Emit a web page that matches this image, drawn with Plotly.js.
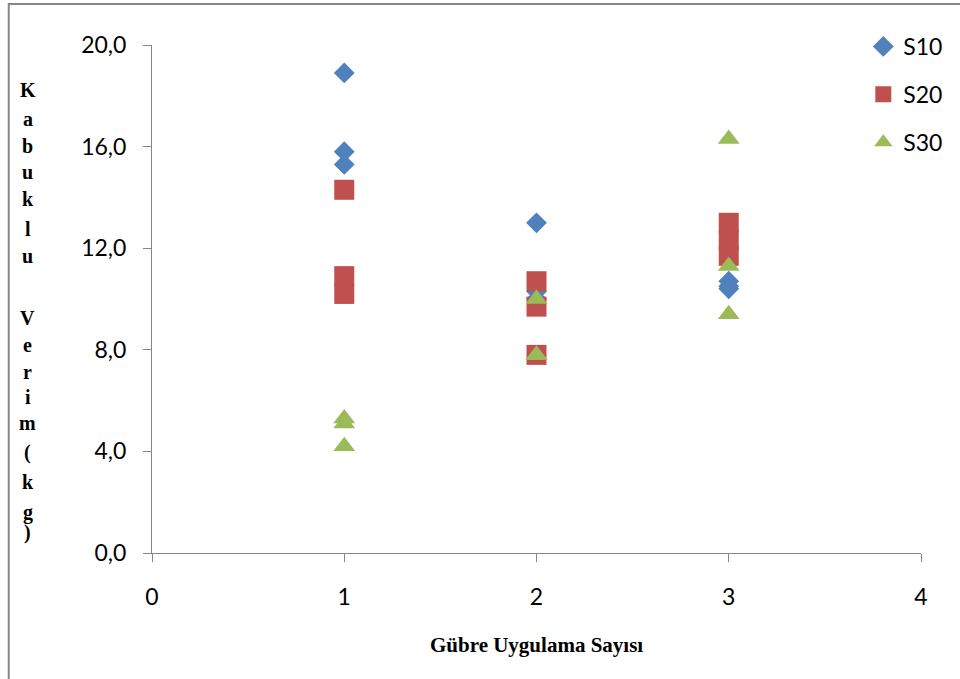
<!DOCTYPE html>
<html><head><meta charset="utf-8">
<script src="https://cdn.plot.ly/plotly-3.0.1.min.js"></script>
<style>html,body{margin:0;padding:0;background:#fff}#c{width:960px;height:679px}</style>
</head><body><div id="c"></div>
<script>
const s10x = [1, 1, 1, 2, 2, 2, 3, 3, 3];
const s10y = [18.9, 15.8, 15.3, 13.0, 10.3, 10.0, 10.7, 10.5, 10.4];
const s20x = [1, 1, 1, 2, 2, 2, 3, 3, 3];
const s20y = [14.3, 10.9, 10.2, 10.7, 9.7, 7.8, 13.0, 12.3, 11.7];
const s30x = [1, 1, 1, 2, 2, 2, 3, 3, 3];
const s30y = [5.3, 5.1, 4.2, 10.0, 7.8, 7.8, 16.3, 11.3, 9.4];
const seriesNames = ['S10', 'S20', 'S30'];
const yTitleLetters = ['K','a','b','u','k','l','u','','V','e','r','i','m','(','k','g',')'];
const yTitlePix = [90,119,146,172,199,229,256,0,318,345,372,397,423,452,482,512,532];
const xTitle = 'Gübre Uygulama Sayısı';

const T = 45, B = 553, L = 152, R = 925;
const py = p => (B - p) / (B - T);
const px = p => (p - L) / (R - L);

const traces = [
  {x: s10x, y: s10y, name: seriesNames[0], type: 'scatter', mode: 'markers', legendgroup: 'a',
   marker: {symbol: 'diamond', size: 16, color: '#4F81BD'}},
  {x: s20x, y: s20y, name: seriesNames[1], type: 'scatter', mode: 'markers', legendgroup: 'b',
   marker: {symbol: 'square', size: 20, color: '#C0504D'}},
  {x: s30x, y: s30y, name: seriesNames[2], type: 'scatter', mode: 'markers', legendgroup: 'c',
   marker: {symbol: 'triangle-up', size: 19, color: '#9BBB59'}}
];

const annotations = [];
yTitleLetters.forEach((ch, i) => {
  if (!ch) return;
  annotations.push({text: '<b>' + ch + '</b>', xref: 'paper', yref: 'paper', x: px(27), y: py(yTitlePix[i]),
    xanchor: 'center', yanchor: 'middle', showarrow: false,
    font: {family: 'Liberation Serif', size: 20, color: '#000'}});
});
annotations.push({text: '<b>' + xTitle + '</b>', xref: 'paper', yref: 'paper', x: px(538), y: py(645),
  xanchor: 'center', yanchor: 'middle', showarrow: false,
  font: {family: 'Liberation Serif', size: 21, color: '#000'}});

const layout = {
  width: 960, height: 679,
  margin: {l: L, r: 960 - R, t: T, b: 679 - B},
  paper_bgcolor: '#fff', plot_bgcolor: '#fff',
  separators: ',.',
  font: {family: 'Lato, "Open Sans", sans-serif', size: 23, color: '#000'},
  showlegend: true,
  legend: {x: px(867), y: py(25), xanchor: 'left', yanchor: 'top', traceorder: 'grouped',
    tracegroupgap: 15, font: {size: 23, color: '#000'}, itemwidth: 30, bgcolor: 'rgba(0,0,0,0)'},
  xaxis: {range: [0, 4], dtick: 1, tick0: 0, showgrid: false, zeroline: false,
    showline: true, linecolor: '#868686', linewidth: 1, ticks: 'outside', ticklen: 8,
    tickcolor: '#868686', ticklabelstandoff: 15, tickfont: {size: 23}},
  yaxis: {range: [0, 20], dtick: 4, tick0: 0, tickformat: '.1f', showgrid: false, zeroline: false,
    showline: true, linecolor: '#868686', linewidth: 1, ticks: 'outside', ticklen: 8,
    tickcolor: '#868686', ticklabelstandoff: 12, tickfont: {size: 23}},
  annotations: annotations,
  shapes: [{type: 'rect', xref: 'paper', yref: 'paper', x0: px(8), x1: px(970), y0: py(700), y1: py(4),
    line: {color: '#868686', width: 2}, fillcolor: 'rgba(0,0,0,0)', layer: 'below'}]
};

Plotly.newPlot('c', traces, layout, {displayModeBar: false, staticPlot: true});
</script></body></html>
